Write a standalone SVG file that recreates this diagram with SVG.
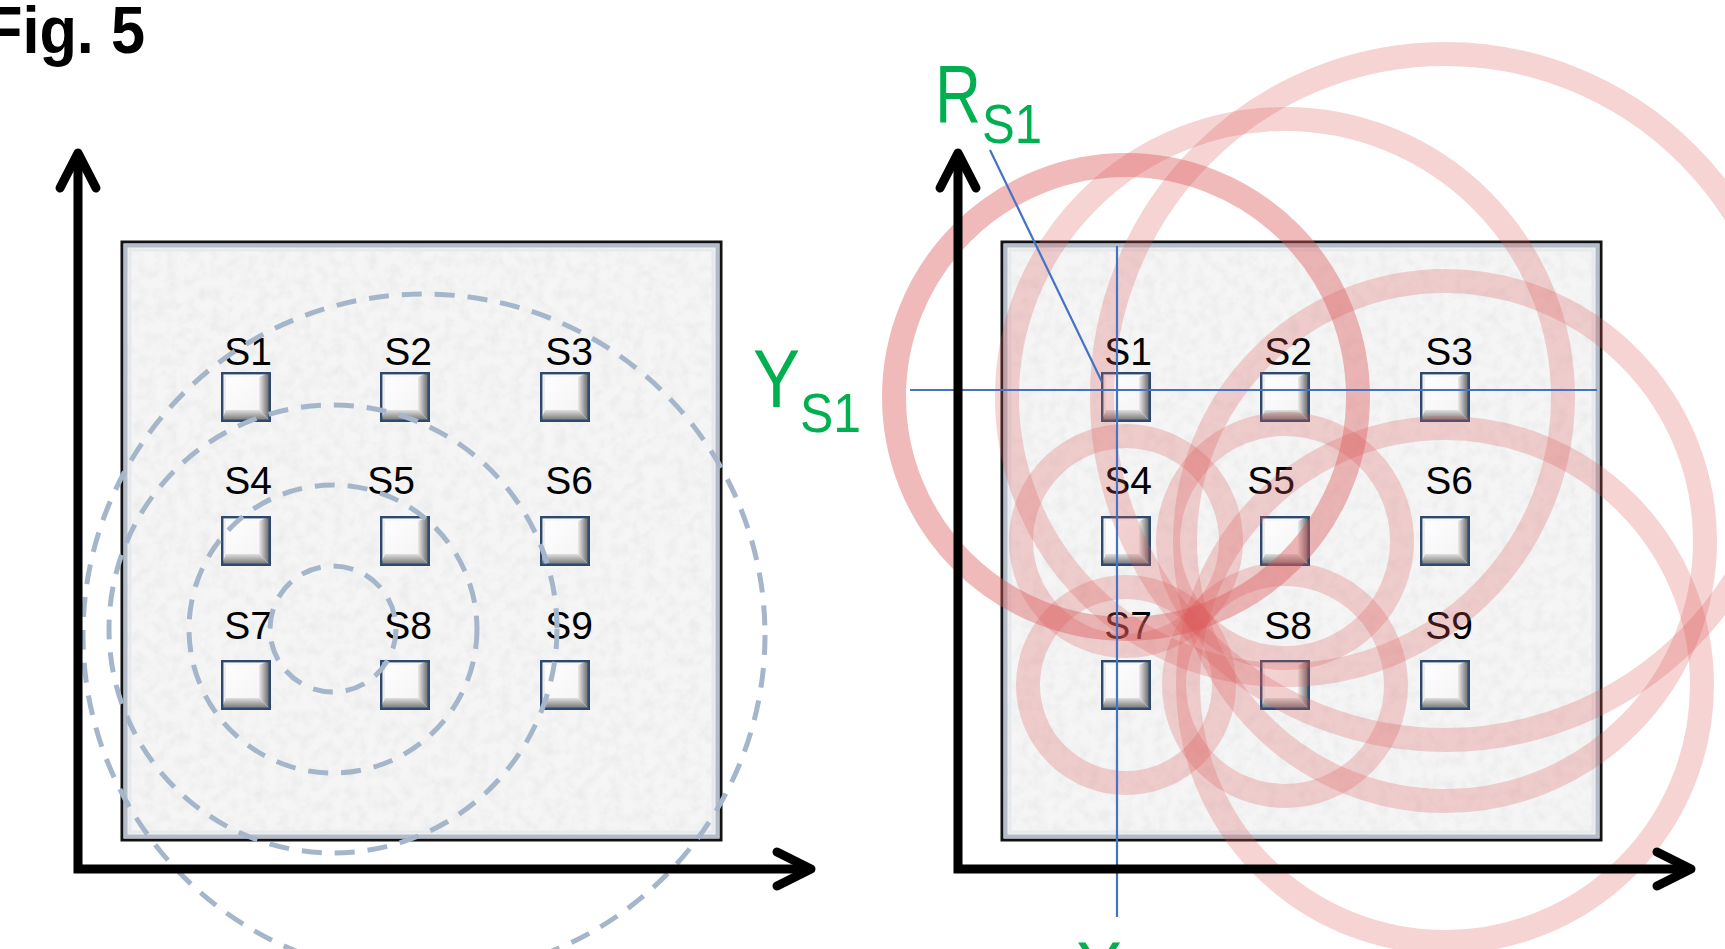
<svg xmlns="http://www.w3.org/2000/svg" width="1725" height="949" viewBox="0 0 1725 949">
<defs>
<style>
.shaft{fill:none;stroke:#000;stroke-width:9;stroke-linejoin:miter}
.head{fill:none;stroke:#000;stroke-width:9;stroke-linecap:round;stroke-linejoin:round}
.lbl{font-family:"Liberation Sans",Arial,sans-serif;font-size:39px;fill:#000;text-anchor:middle}
.green{font-family:"Liberation Sans",Arial,sans-serif;fill:#00b050}
.dash{fill:none;stroke:#a5b6ca;stroke-width:5;stroke-dasharray:20 13}
.ring{fill:none;stroke:#dc5a5a;stroke-width:24;stroke-opacity:0.26}
.ring1{stroke-opacity:0.42}
.blue{fill:none;stroke:#4472c4;stroke-width:2.2}
.frame{fill:#f5f5f5;stroke:#121212;stroke-width:3}
.bevel1{fill:none;stroke:#b4bcc7;stroke-width:4}
.bevel2{fill:none;stroke:#e6e9ee;stroke-width:3}
</style>
<linearGradient id="gR" x1="0" y1="0" x2="1" y2="0"><stop offset="0" stop-color="#ececec"/><stop offset="1" stop-color="#4f4f4f"/></linearGradient>
<linearGradient id="gB" x1="0" y1="0" x2="0" y2="1"><stop offset="0" stop-color="#e0e0e0"/><stop offset="1" stop-color="#626262"/></linearGradient>
<linearGradient id="gF" x1="0" y1="0" x2="1" y2="1"><stop offset="0" stop-color="#ffffff"/><stop offset="1" stop-color="#f2f2f2"/></linearGradient>
<filter id="noise" x="0" y="0" width="1" height="1" filterUnits="objectBoundingBox">
<feTurbulence type="fractalNoise" baseFrequency="0.09" numOctaves="3" seed="4" result="t"/>
<feColorMatrix in="t" type="matrix" values="0 0 0 0 0.55  0 0 0 0 0.56  0 0 0 0 0.58  1.3 0 0 0 -0.5"/>
</filter>
<symbol id="sensor" viewBox="0 0 50 50" width="50" height="50">
<rect x="0" y="0" width="50" height="50" fill="url(#gF)"/>
<polygon points="0,0 50,0 38,5 5,5" fill="#f7f7f7"/>
<polygon points="0,0 5,5 5,38 0,50" fill="#ededed"/>
<polygon points="50,0 50,50 38,38 38,5" fill="url(#gR)"/>
<polygon points="0,50 50,50 38,38 5,38" fill="url(#gB)"/>
<rect x="1.2" y="1.2" width="47.6" height="47.6" fill="none" stroke="#2d4a6e" stroke-width="2.4"/>
</symbol>
</defs>
<rect width="1725" height="949" fill="#fff"/>

<g id="fig-title">
<text x="-15" y="53" font-family="Liberation Sans,Arial,sans-serif" font-weight="bold" font-size="66" textLength="160" lengthAdjust="spacingAndGlyphs">Fig. 5</text>
</g>

<!-- LEFT PANEL -->
<g id="left-board">
<rect x="122" y="242" width="599" height="598" class="frame"/>
<rect x="124" y="244" width="595" height="594" fill="#fff" filter="url(#noise)" opacity="0.3"/>
<rect x="125.5" y="245.5" width="592" height="591" class="bevel1"/>
<rect x="130" y="250" width="583" height="582" class="bevel2"/>
</g>
<g id="left-sensors">
<g id="L-S1"><use href="#sensor" x="221" y="372"/><text class="lbl" x="248" y="365">S1</text></g>
<g id="L-S2"><use href="#sensor" x="380" y="372"/><text class="lbl" x="408" y="365">S2</text></g>
<g id="L-S3"><use href="#sensor" x="540" y="372"/><text class="lbl" x="569" y="365">S3</text></g>
<g id="L-S4"><use href="#sensor" x="221" y="516"/><text class="lbl" x="248" y="494">S4</text></g>
<g id="L-S5"><use href="#sensor" x="380" y="516"/><text class="lbl" x="391" y="494">S5</text></g>
<g id="L-S6"><use href="#sensor" x="540" y="516"/><text class="lbl" x="569" y="494">S6</text></g>
<g id="L-S7"><use href="#sensor" x="221" y="660"/><text class="lbl" x="248" y="639">S7</text></g>
<g id="L-S8"><use href="#sensor" x="380" y="660"/><text class="lbl" x="408" y="639">S8</text></g>
<g id="L-S9"><use href="#sensor" x="540" y="660"/><text class="lbl" x="569" y="639">S9</text></g>
</g>
<g id="left-contours">
<circle class="dash" cx="333" cy="629" r="63"/>
<circle class="dash" cx="333" cy="629" r="144"/>
<circle class="dash" cx="333" cy="629" r="224"/>
<circle class="dash" cx="424" cy="635" r="341"/>
</g>
<g id="left-axes">
<path class="shaft" d="M78,153 V869 H811"/>
<path class="head" d="M60,188 L78,153 L96,188"/>
<path class="head" d="M777,852 L811,869 L777,886"/>
</g>

<!-- RIGHT PANEL -->
<g id="right-board">
<rect x="1002" y="242" width="599" height="598" class="frame"/>
<rect x="1004" y="244" width="595" height="594" fill="#fff" filter="url(#noise)" opacity="0.3"/>
<rect x="1005.5" y="245.5" width="592" height="591" class="bevel1"/>
<rect x="1010" y="250" width="583" height="582" class="bevel2"/>
</g>
<g id="right-sensors">
<g id="R-S1"><use href="#sensor" x="1101" y="372"/><text class="lbl" x="1128" y="365">S1</text></g>
<g id="R-S2"><use href="#sensor" x="1260" y="372"/><text class="lbl" x="1288" y="365">S2</text></g>
<g id="R-S3"><use href="#sensor" x="1420" y="372"/><text class="lbl" x="1449" y="365">S3</text></g>
<g id="R-S4"><use href="#sensor" x="1101" y="516"/><text class="lbl" x="1128" y="494">S4</text></g>
<g id="R-S5"><use href="#sensor" x="1260" y="516"/><text class="lbl" x="1271" y="494">S5</text></g>
<g id="R-S6"><use href="#sensor" x="1420" y="516"/><text class="lbl" x="1449" y="494">S6</text></g>
<g id="R-S7"><use href="#sensor" x="1101" y="660"/><text class="lbl" x="1128" y="639">S7</text></g>
<g id="R-S8"><use href="#sensor" x="1260" y="660"/><text class="lbl" x="1288" y="639">S8</text></g>
<g id="R-S9"><use href="#sensor" x="1420" y="660"/><text class="lbl" x="1449" y="639">S9</text></g>
</g>
<g id="right-rings">
<circle class="ring ring1" cx="1126" cy="397" r="232"/>
<circle class="ring" cx="1285" cy="397" r="278"/>
<circle class="ring" cx="1445" cy="397" r="343"/>
<circle class="ring" cx="1126" cy="541" r="105"/>
<circle class="ring" cx="1285" cy="541" r="117"/>
<circle class="ring" cx="1445" cy="541" r="260"/>
<circle class="ring" cx="1126" cy="685" r="98"/>
<circle class="ring" cx="1285" cy="685" r="111"/>
<circle class="ring" cx="1445" cy="685" r="257"/>
</g>
<g id="connectors">
<line class="blue" x1="1117" y1="246" x2="1117" y2="917"/>
<line class="blue" x1="910" y1="390" x2="1597" y2="390"/>
<line class="blue" x1="990" y1="150" x2="1102" y2="382"/>
</g>
<g id="right-axes">
<path class="shaft" d="M958,153 V869 H1691"/>
<path class="head" d="M940,188 L958,153 L976,188"/>
<path class="head" d="M1657,852 L1691,869 L1657,886"/>
</g>
<g id="label-Y">
<text class="green" x="753" y="407" font-size="82" textLength="47" lengthAdjust="spacingAndGlyphs">Y</text>
<text class="green" x="800" y="432" font-size="56" textLength="61" lengthAdjust="spacingAndGlyphs">S1</text>
</g>
<g id="label-R">
<text class="green" x="935" y="122" font-size="82" textLength="46" lengthAdjust="spacingAndGlyphs">R</text>
<text class="green" x="982" y="143" font-size="56" textLength="60" lengthAdjust="spacingAndGlyphs">S1</text>
</g>
<g id="label-X">
<text class="green" x="1075" y="999" font-size="82" textLength="48" lengthAdjust="spacingAndGlyphs">X</text>
</g>
</svg>
